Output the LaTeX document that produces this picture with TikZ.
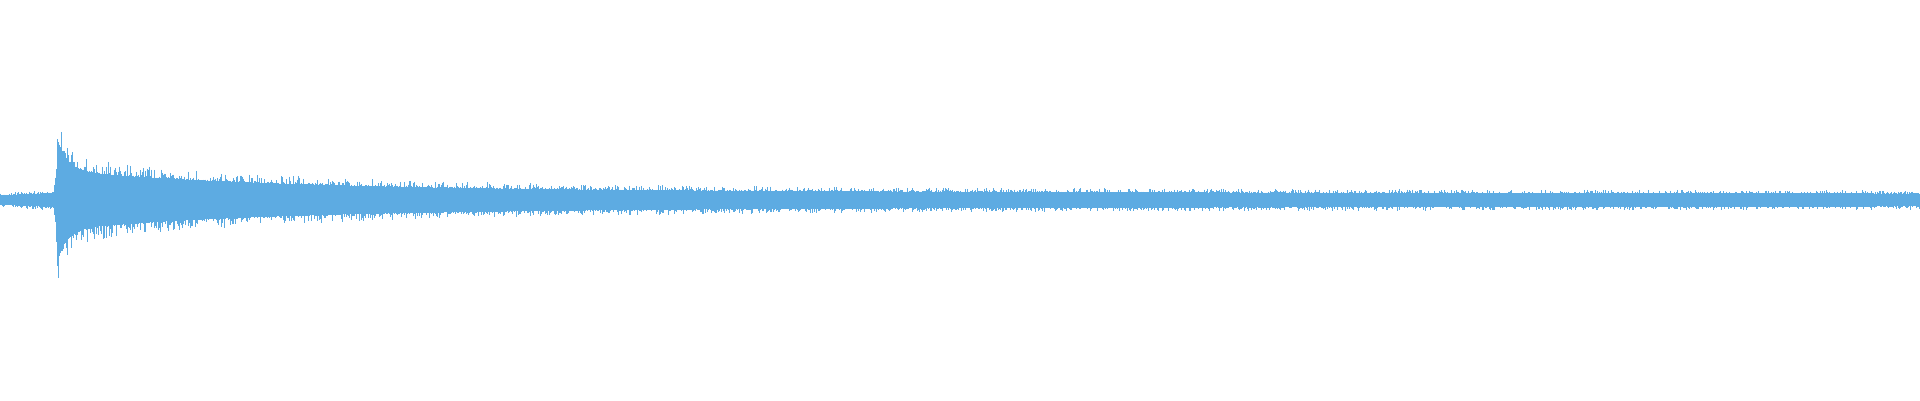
\documentclass[tikz,border=0pt]{standalone}
\definecolor{wave}{RGB}{93,171,226}
\begin{document}
\begin{tikzpicture}[x=1pt,y=-1pt]
\useasboundingbox (0,0) rectangle (1920,400);
\pgfmathsetseed{7}
\foreach \i in {0,...,1919}{
  \pgfmathsetmacro{\wdd}{max(\i-57,0)}
  \pgfmathsetmacro{\wee}{min(\wdd/10,9)}
  \pgfmathsetmacro{\wff}{min(\wdd/200,9)}
  \pgfmathsetmacro{\wpost}{7+23*exp(-\wff)+8*exp(-\wdd/1000)+40*exp(-\wee)}
  \ifnum\i<53 \pgfmathsetmacro{\wA}{6+0.06*\i}\else
    \ifnum\i<57 \pgfmathsetmacro{\wA}{10+(\i-53)*9}\else
      \let\wA\wpost\fi\fi
  \pgfmathsetmacro{\wr}{rnd}
  \pgfmathsetmacro{\ws}{rnd}
  \pgfmathsetmacro{\wt}{\wA*(0.78+0.4*\wr*\wr*\wr)}
  \pgfmathsetmacro{\wb}{\wA*(0.78+0.4*\ws*\ws*\ws)}
  \draw[wave,line width=1.05pt] (\i+0.5,200-\wt) -- (\i+0.5,200+\wb);
}
\end{tikzpicture}
\end{document}
